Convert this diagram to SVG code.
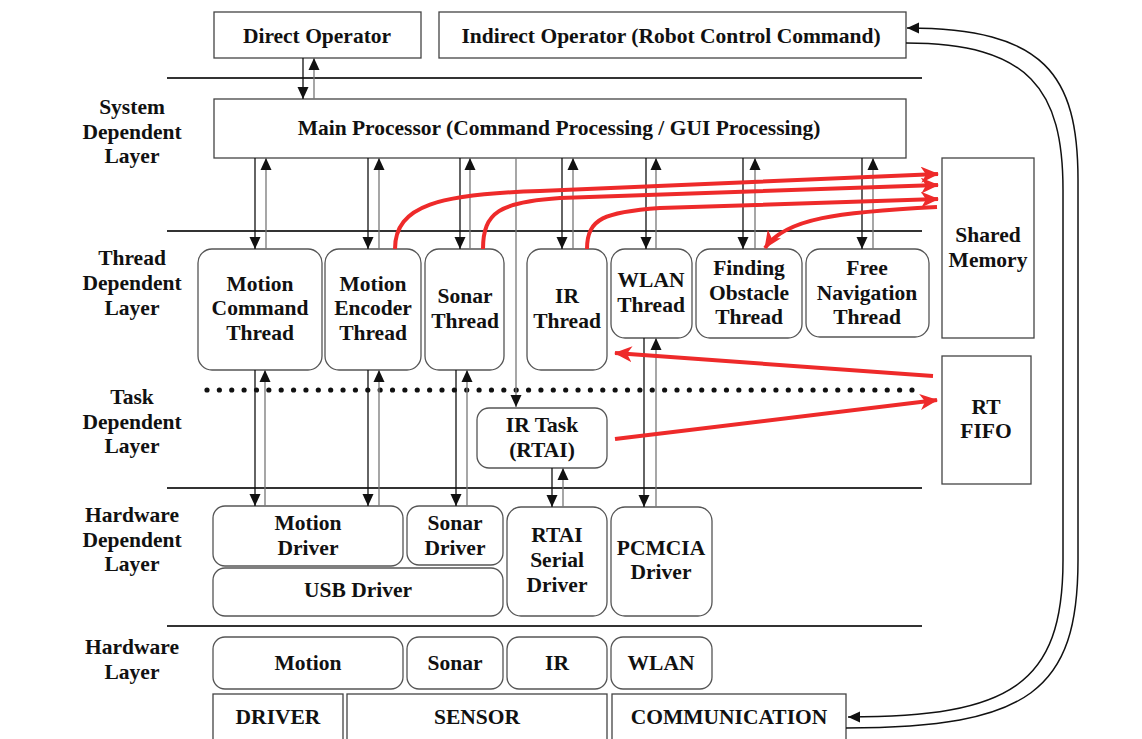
<svg xmlns="http://www.w3.org/2000/svg" width="1142" height="739" viewBox="0 0 1142 739">
<defs>
<style>
.t{font-family:"Liberation Serif","Times New Roman",serif;font-weight:bold;font-size:21.5px;fill:#111;text-anchor:middle}
.box{fill:#fff;stroke:#444;stroke-width:1.3}
.rbox{fill:#fff;stroke:#555;stroke-width:1.3}
.sep{stroke:#333;stroke-width:2;fill:none}
.dn{stroke:#111;stroke-width:1.3;fill:none}
.up{stroke:#777;stroke-width:1.3;fill:none}
.red{stroke:#ee2a2a;stroke-width:4;fill:none}
.loop{stroke:#111;stroke-width:1.5;fill:none}
</style>
<marker id="ah" markerUnits="userSpaceOnUse" markerWidth="12" markerHeight="12" viewBox="0 0 12 12" refX="12" refY="6" orient="auto">
<path d="M0,0.5 L12,6 L0,11.5 z" fill="#111"/>
</marker>
<marker id="rah" markerUnits="userSpaceOnUse" markerWidth="18" markerHeight="16" viewBox="0 0 18 16" refX="17" refY="8" orient="auto">
<path d="M0,0 L18,8 L0,16 L5,8 z" fill="#ee2a2a"/>
</marker>
</defs>
<rect width="1142" height="739" fill="#fff"/>

<g id="layers">
<line class="sep" x1="167" y1="78" x2="922" y2="78"/>
<line class="sep" x1="167" y1="231" x2="922" y2="231"/>
<line class="sep" x1="167" y1="488" x2="922" y2="488"/>
<line class="sep" x1="167" y1="626" x2="922" y2="626"/>
<line x1="207" y1="390" x2="913" y2="390" stroke="#111" stroke-width="5.2" stroke-linecap="round" stroke-dasharray="0 12.368"/>
<text class="t"><tspan x="132" y="114">System</tspan><tspan x="132" y="139">Dependent</tspan><tspan x="132" y="163">Layer</tspan></text>
<text class="t"><tspan x="132" y="265">Thread</tspan><tspan x="132" y="290">Dependent</tspan><tspan x="132" y="315">Layer</tspan></text>
<text class="t"><tspan x="132" y="404">Task</tspan><tspan x="132" y="429">Dependent</tspan><tspan x="132" y="453">Layer</tspan></text>
<text class="t"><tspan x="132" y="522">Hardware</tspan><tspan x="132" y="547">Dependent</tspan><tspan x="132" y="571">Layer</tspan></text>
<text class="t"><tspan x="132" y="654">Hardware</tspan><tspan x="132" y="679">Layer</tspan></text>
</g>

<g id="direct-operator"><rect class="box" x="214" y="12" width="207" height="46"/><text class="t" x="317" y="43">Direct Operator</text></g>
<g id="indirect-operator"><rect class="box" x="439" y="12" width="467" height="46"/><text class="t" x="671" y="43">Indirect Operator (Robot Control Command)</text></g>
<g id="main-processor"><rect class="box" x="214" y="99" width="692" height="59"/><text class="t" x="559" y="135">Main Processor (Command Processing / GUI Processing)</text></g>

<g id="motion-command-thread"><rect class="rbox" x="198" y="249" width="124" height="121" rx="14"/><text class="t"><tspan x="260" y="291">Motion</tspan><tspan x="260" y="315">Command</tspan><tspan x="260" y="340">Thread</tspan></text></g>
<g id="motion-encoder-thread"><rect class="rbox" x="325" y="249" width="96" height="121" rx="14"/><text class="t"><tspan x="373" y="291">Motion</tspan><tspan x="373" y="315">Encoder</tspan><tspan x="373" y="340">Thread</tspan></text></g>
<g id="sonar-thread"><rect class="rbox" x="425" y="249" width="79" height="121" rx="14"/><text class="t"><tspan x="465" y="303">Sonar</tspan><tspan x="465" y="328">Thread</tspan></text></g>
<g id="ir-thread"><rect class="rbox" x="527" y="249" width="80" height="121" rx="14"/><text class="t"><tspan x="567" y="303">IR</tspan><tspan x="567" y="328">Thread</tspan></text></g>
<g id="wlan-thread"><rect class="rbox" x="611" y="249" width="81" height="89" rx="14"/><text class="t"><tspan x="651" y="287">WLAN</tspan><tspan x="651" y="312">Thread</tspan></text></g>
<g id="finding-obstacle-thread"><rect class="rbox" x="696" y="249" width="106" height="89" rx="14"/><text class="t"><tspan x="749" y="275">Finding</tspan><tspan x="749" y="300">Obstacle</tspan><tspan x="749" y="324">Thread</tspan></text></g>
<g id="free-navigation-thread"><rect class="rbox" x="806" y="249" width="123" height="88" rx="14"/><text class="t"><tspan x="867" y="275">Free</tspan><tspan x="867" y="300">Navigation</tspan><tspan x="867" y="324">Thread</tspan></text></g>
<g id="shared-memory"><rect class="box" x="942" y="158" width="92" height="180"/><text class="t"><tspan x="988" y="242">Shared</tspan><tspan x="988" y="267">Memory</tspan></text></g>
<g id="rt-fifo"><rect class="box" x="942" y="356" width="89" height="128"/><text class="t"><tspan x="986" y="414">RT</tspan><tspan x="986" y="438">FIFO</tspan></text></g>
<g id="ir-task"><rect class="rbox" x="477" y="408" width="130" height="60" rx="12"/><text class="t"><tspan x="542" y="432">IR Task</tspan><tspan x="542" y="457">(RTAI)</tspan></text></g>

<g id="motion-driver"><rect class="rbox" x="213" y="506" width="190" height="60" rx="12"/><text class="t"><tspan x="308" y="530">Motion</tspan><tspan x="308" y="555">Driver</tspan></text></g>
<g id="sonar-driver"><rect class="rbox" x="407" y="506" width="96" height="59" rx="12"/><text class="t"><tspan x="455" y="530">Sonar</tspan><tspan x="455" y="555">Driver</tspan></text></g>
<g id="usb-driver"><rect class="rbox" x="213" y="568" width="290" height="48" rx="12"/><text class="t" x="358" y="597">USB Driver</text></g>
<g id="rtai-serial-driver"><rect class="rbox" x="507" y="507" width="100" height="109" rx="14"/><text class="t"><tspan x="557" y="542">RTAI</tspan><tspan x="557" y="567">Serial</tspan><tspan x="557" y="592">Driver</tspan></text></g>
<g id="pcmcia-driver"><rect class="rbox" x="611" y="507" width="101" height="109" rx="14"/><text class="t"><tspan x="661" y="555">PCMCIA</tspan><tspan x="661" y="579">Driver</tspan></text></g>

<g id="hw-motion"><rect class="rbox" x="213" y="637" width="190" height="52" rx="12"/><text class="t" x="308" y="670">Motion</text></g>
<g id="hw-sonar"><rect class="rbox" x="407" y="637" width="96" height="52" rx="12"/><text class="t" x="455" y="670">Sonar</text></g>
<g id="hw-ir"><rect class="rbox" x="507" y="637" width="100" height="52" rx="12"/><text class="t" x="557" y="670">IR</text></g>
<g id="hw-wlan"><rect class="rbox" x="611" y="637" width="101" height="52" rx="12"/><text class="t" x="661" y="670">WLAN</text></g>
<g id="driver"><rect class="box" x="213" y="694" width="130" height="50"/><text class="t" x="278" y="724">DRIVER</text></g>
<g id="sensor"><rect class="box" x="347" y="694" width="260" height="50"/><text class="t" x="477" y="724">SENSOR</text></g>
<g id="communication"><rect class="box" x="612" y="694" width="234" height="50"/><text class="t" x="729" y="724">COMMUNICATION</text></g>

<g id="connectors">
<line class="dn" x1="303" y1="58" x2="303" y2="99" marker-end="url(#ah)"/>
<line class="up" x1="314" y1="99" x2="314" y2="58" marker-end="url(#ah)"/>

<line class="dn" x1="255" y1="158" x2="255" y2="249" marker-end="url(#ah)"/>
<line class="up" x1="266" y1="249" x2="266" y2="158" marker-end="url(#ah)"/>
<line class="dn" x1="368" y1="158" x2="368" y2="249" marker-end="url(#ah)"/>
<line class="up" x1="379" y1="249" x2="379" y2="158" marker-end="url(#ah)"/>
<line class="dn" x1="460" y1="158" x2="460" y2="249" marker-end="url(#ah)"/>
<line class="up" x1="470" y1="249" x2="470" y2="158" marker-end="url(#ah)"/>
<line class="dn" x1="562" y1="158" x2="562" y2="249" marker-end="url(#ah)"/>
<line class="up" x1="573" y1="249" x2="573" y2="158" marker-end="url(#ah)"/>
<line class="dn" x1="646" y1="158" x2="646" y2="249" marker-end="url(#ah)"/>
<line class="up" x1="656" y1="249" x2="656" y2="158" marker-end="url(#ah)"/>
<line class="dn" x1="743" y1="158" x2="743" y2="249" marker-end="url(#ah)"/>
<line class="up" x1="755" y1="249" x2="755" y2="158" marker-end="url(#ah)"/>
<line class="dn" x1="862" y1="158" x2="862" y2="249" marker-end="url(#ah)"/>
<line class="up" x1="873" y1="249" x2="873" y2="158" marker-end="url(#ah)"/>
<line class="up" x1="516" y1="158" x2="516" y2="407" marker-end="url(#ah)"/>

<line class="dn" x1="255" y1="370" x2="255" y2="506" marker-end="url(#ah)"/>
<line class="up" x1="265" y1="506" x2="265" y2="370" marker-end="url(#ah)"/>
<line class="dn" x1="368" y1="370" x2="368" y2="506" marker-end="url(#ah)"/>
<line class="up" x1="379" y1="506" x2="379" y2="370" marker-end="url(#ah)"/>
<line class="dn" x1="456" y1="370" x2="456" y2="506" marker-end="url(#ah)"/>
<line class="up" x1="467" y1="506" x2="467" y2="370" marker-end="url(#ah)"/>
<line class="dn" x1="552" y1="468" x2="552" y2="507" marker-end="url(#ah)"/>
<line class="up" x1="563" y1="507" x2="563" y2="468" marker-end="url(#ah)"/>
<line class="dn" x1="644" y1="338" x2="644" y2="507" marker-end="url(#ah)"/>
<line class="up" x1="656" y1="507" x2="656" y2="338" marker-end="url(#ah)"/>

<path class="loop" d="M906,43 C1030,43 1063,90 1063,190 L1063,560 C1063,685 1010,717 848,717" marker-end="url(#ah)"/>
<path class="loop" d="M846,728 C1030,728 1078,690 1078,560 L1078,180 C1078,75 1045,28 907,28" marker-end="url(#ah)"/>

<path class="red" d="M395,249 C395,205 440,194 540,191 L938,174" marker-end="url(#rah)"/>
<path class="red" d="M483,249 C483,212 500,202 560,198 L938,185" marker-end="url(#rah)"/>
<path class="red" d="M587,249 C587,218 605,212 660,208 L938,199" marker-end="url(#rah)"/>
<path class="red" d="M937,207 C840,212 785,218 765,248" marker-end="url(#rah)"/>
<line class="red" x1="933" y1="376" x2="615" y2="353" marker-end="url(#rah)"/>
<line class="red" x1="615" y1="439" x2="937" y2="400" marker-end="url(#rah)"/>
</g>
</svg>
